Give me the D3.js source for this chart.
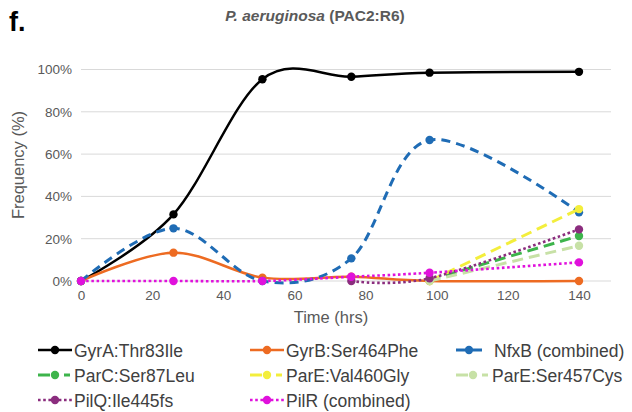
<!DOCTYPE html>
<html>
<head>
<meta charset="utf-8">
<script src="https://cdn.jsdelivr.net/npm/d3@7/dist/d3.min.js"></script>
<style>
  html, body { margin: 0; padding: 0; background: #fff; }
  svg { display: block; font-family: "Liberation Sans", Arial, sans-serif; }
</style>
</head>
<body>
<svg id="chart" width="632" height="412"></svg>
<script>
// Sampling times (hours)
const times = [0, 26, 51, 76, 98, 140];

// Allele frequencies (fraction of population) per mutation; null = not sampled
const gyrA   = [0, 0.315, 0.954, 0.966, 0.985, 0.989];
const gyrB   = [0, 0.134, 0.016, 0.020, 0.000, 0.000];
const nfxB   = [0, 0.249, 0.000, 0.107, 0.667, 0.325];
const parC   = [null, null, null, null, 0.005, 0.213];
const parEV  = [null, null, null, null, 0.000, 0.340];
const parES  = [null, null, null, null, 0.000, 0.167];
const pilQ   = [null, null, null, 0.000, 0.013, 0.244];
const pilR   = [0, 0, 0, 0.020, 0.039, 0.088];

const seriesNames = [
  "GyrA:Thr83Ile", "GyrB:Ser464Phe", "NfxB (combined)",
  "ParC:Ser87Leu", "ParE:Val460Gly", "ParE:Ser457Cys",
  "PilQ:Ile445fs", "PilR (combined)"
];
const seriesValues = [gyrA, gyrB, nfxB, parC, parEV, parES, pilQ, pilR];
const seriesColors = ["#000000", "#ED6B22", "#1F6CB5", "#3DB44B", "#F3EE3C", "#C7E1A6", "#8B2D7E", "#E011DC"];
const seriesDash = ["none", "none", "9,6", "11,6", "11,6", "11,6", "2.6,2.6", "2.6,2.6"];
const seriesWidth = [2.5, 2.5, 3, 3, 3, 3, 2.6, 2.6];

const xTicks = [0, 20, 40, 60, 80, 100, 120, 140];
const yTicks = [0, 0.2, 0.4, 0.6, 0.8, 1.0];

const svg = d3.select("#chart");

const x = d3.scaleLinear().domain([0, 149]).range([81, 611]);
const y = d3.scaleLinear().domain([0, 1]).range([281, 69.5]);

// Panel letter and title
svg.append("text").attr("x", 9).attr("y", 31)
  .attr("font-size", 27).attr("font-weight", "bold").attr("fill", "#000")
  .text("f.");

const title = svg.append("text").attr("x", 315).attr("y", 21)
  .attr("text-anchor", "middle").attr("font-size", 15.5)
  .attr("font-weight", "bold").attr("fill", "#5a5a5a");
title.append("tspan").attr("font-style", "italic").text("P. aeruginosa");
title.append("tspan").text(" (PAC2:R6)");

// Gridlines
svg.append("g").selectAll("line").data(yTicks).join("line")
  .attr("x1", x(0)).attr("x2", x(149))
  .attr("y1", d => y(d)).attr("y2", d => y(d))
  .attr("stroke", "#d9d9d9").attr("stroke-width", 1);

// Axes (labels only, no domain lines)
const yAxis = svg.append("g").attr("transform", `translate(${x(0) - 9},0)`)
  .call(d3.axisLeft(y).tickValues(yTicks).tickSize(0).tickPadding(0)
    .tickFormat(d => Math.round(d * 100) + "%"));
yAxis.select(".domain").remove();
yAxis.selectAll("text").attr("font-size", 13.5).attr("fill", "#595959")
  .attr("font-family", "Liberation Sans, Arial, sans-serif");

const xAxis = svg.append("g").attr("transform", `translate(0,${y(0) + 9})`)
  .call(d3.axisBottom(x).tickValues(xTicks).tickSize(0).tickPadding(0));
xAxis.select(".domain").remove();
xAxis.selectAll("text").attr("font-size", 13.5).attr("fill", "#595959")
  .attr("font-family", "Liberation Sans, Arial, sans-serif");

// Axis titles
svg.append("text").attr("transform", "translate(24,165) rotate(-90)")
  .attr("text-anchor", "middle").attr("font-size", 16.5).attr("fill", "#595959")
  .text("Frequency (%)");
svg.append("text").attr("x", 331).attr("y", 323)
  .attr("text-anchor", "middle").attr("font-size", 16.5).attr("fill", "#595959")
  .text("Time (hrs)");

// Smoothed series lines
const line = d3.line()
  .x(d => x(d[0])).y(d => y(d[1]))
  .curve(d3.curveCardinal.tension(0));

const series = seriesNames.map((name, i) => ({
  name,
  color: seriesColors[i],
  dash: seriesDash[i],
  width: seriesWidth[i],
  points: times.map((t, j) => [t, seriesValues[i][j]]).filter(p => p[1] !== null)
}));

const plot = svg.append("g");
series.forEach(s => {
  const g = plot.append("g");
  g.append("path").datum(s.points)
    .attr("d", line).attr("fill", "none")
    .attr("stroke", s.color).attr("stroke-width", s.width)
    .attr("stroke-dasharray", s.dash);
  g.selectAll("circle").data(s.points).join("circle")
    .attr("cx", d => x(d[0])).attr("cy", d => y(d[1])).attr("r", 4.2)
    .attr("fill", s.color);
});

// Legend: three columns, three rows
const legX = [38, 250, 456];
const legY = [350, 375, 400];
const legend = svg.append("g");
series.forEach((s, i) => {
  const col = i % 3, row = Math.floor(i / 3);
  const lx = legX[col], ly = legY[row];
  const g = legend.append("g").attr("transform", `translate(${lx},${ly})`);
  if (s.dash === "none") {
    g.append("line").attr("x1", 0).attr("x2", 34).attr("y1", 0).attr("y2", 0)
      .attr("stroke", s.color).attr("stroke-width", s.width);
  } else if (s.dash.startsWith("2.6")) {
    g.append("line").attr("x1", 0).attr("x2", 34).attr("y1", 0).attr("y2", 0)
      .attr("stroke", s.color).attr("stroke-width", s.width)
      .attr("stroke-dasharray", "2.6,2.6");
  } else if (i === 2) {
    g.append("line").attr("x1", 0).attr("x2", 9).attr("y1", 0).attr("y2", 0)
      .attr("stroke", s.color).attr("stroke-width", s.width);
    g.append("line").attr("x1", 17).attr("x2", 26).attr("y1", 0).attr("y2", 0)
      .attr("stroke", s.color).attr("stroke-width", s.width);
  } else {
    g.append("line").attr("x1", 0).attr("x2", 12).attr("y1", 0).attr("y2", 0)
      .attr("stroke", s.color).attr("stroke-width", s.width);
    g.append("line").attr("x1", 26).attr("x2", 32).attr("y1", 0).attr("y2", 0)
      .attr("stroke", s.color).attr("stroke-width", s.width);
  }
  const mx = i === 2 ? 13 : 17;
  g.append("circle").attr("cx", mx).attr("cy", 0).attr("r", 4.2).attr("fill", s.color);
  g.append("text").attr("x", i === 2 ? 38 : 36).attr("y", 6.5)
    .attr("font-size", 17.5).attr("fill", "#404040")
    .text(s.name);
});
</script>
</body>
</html>
